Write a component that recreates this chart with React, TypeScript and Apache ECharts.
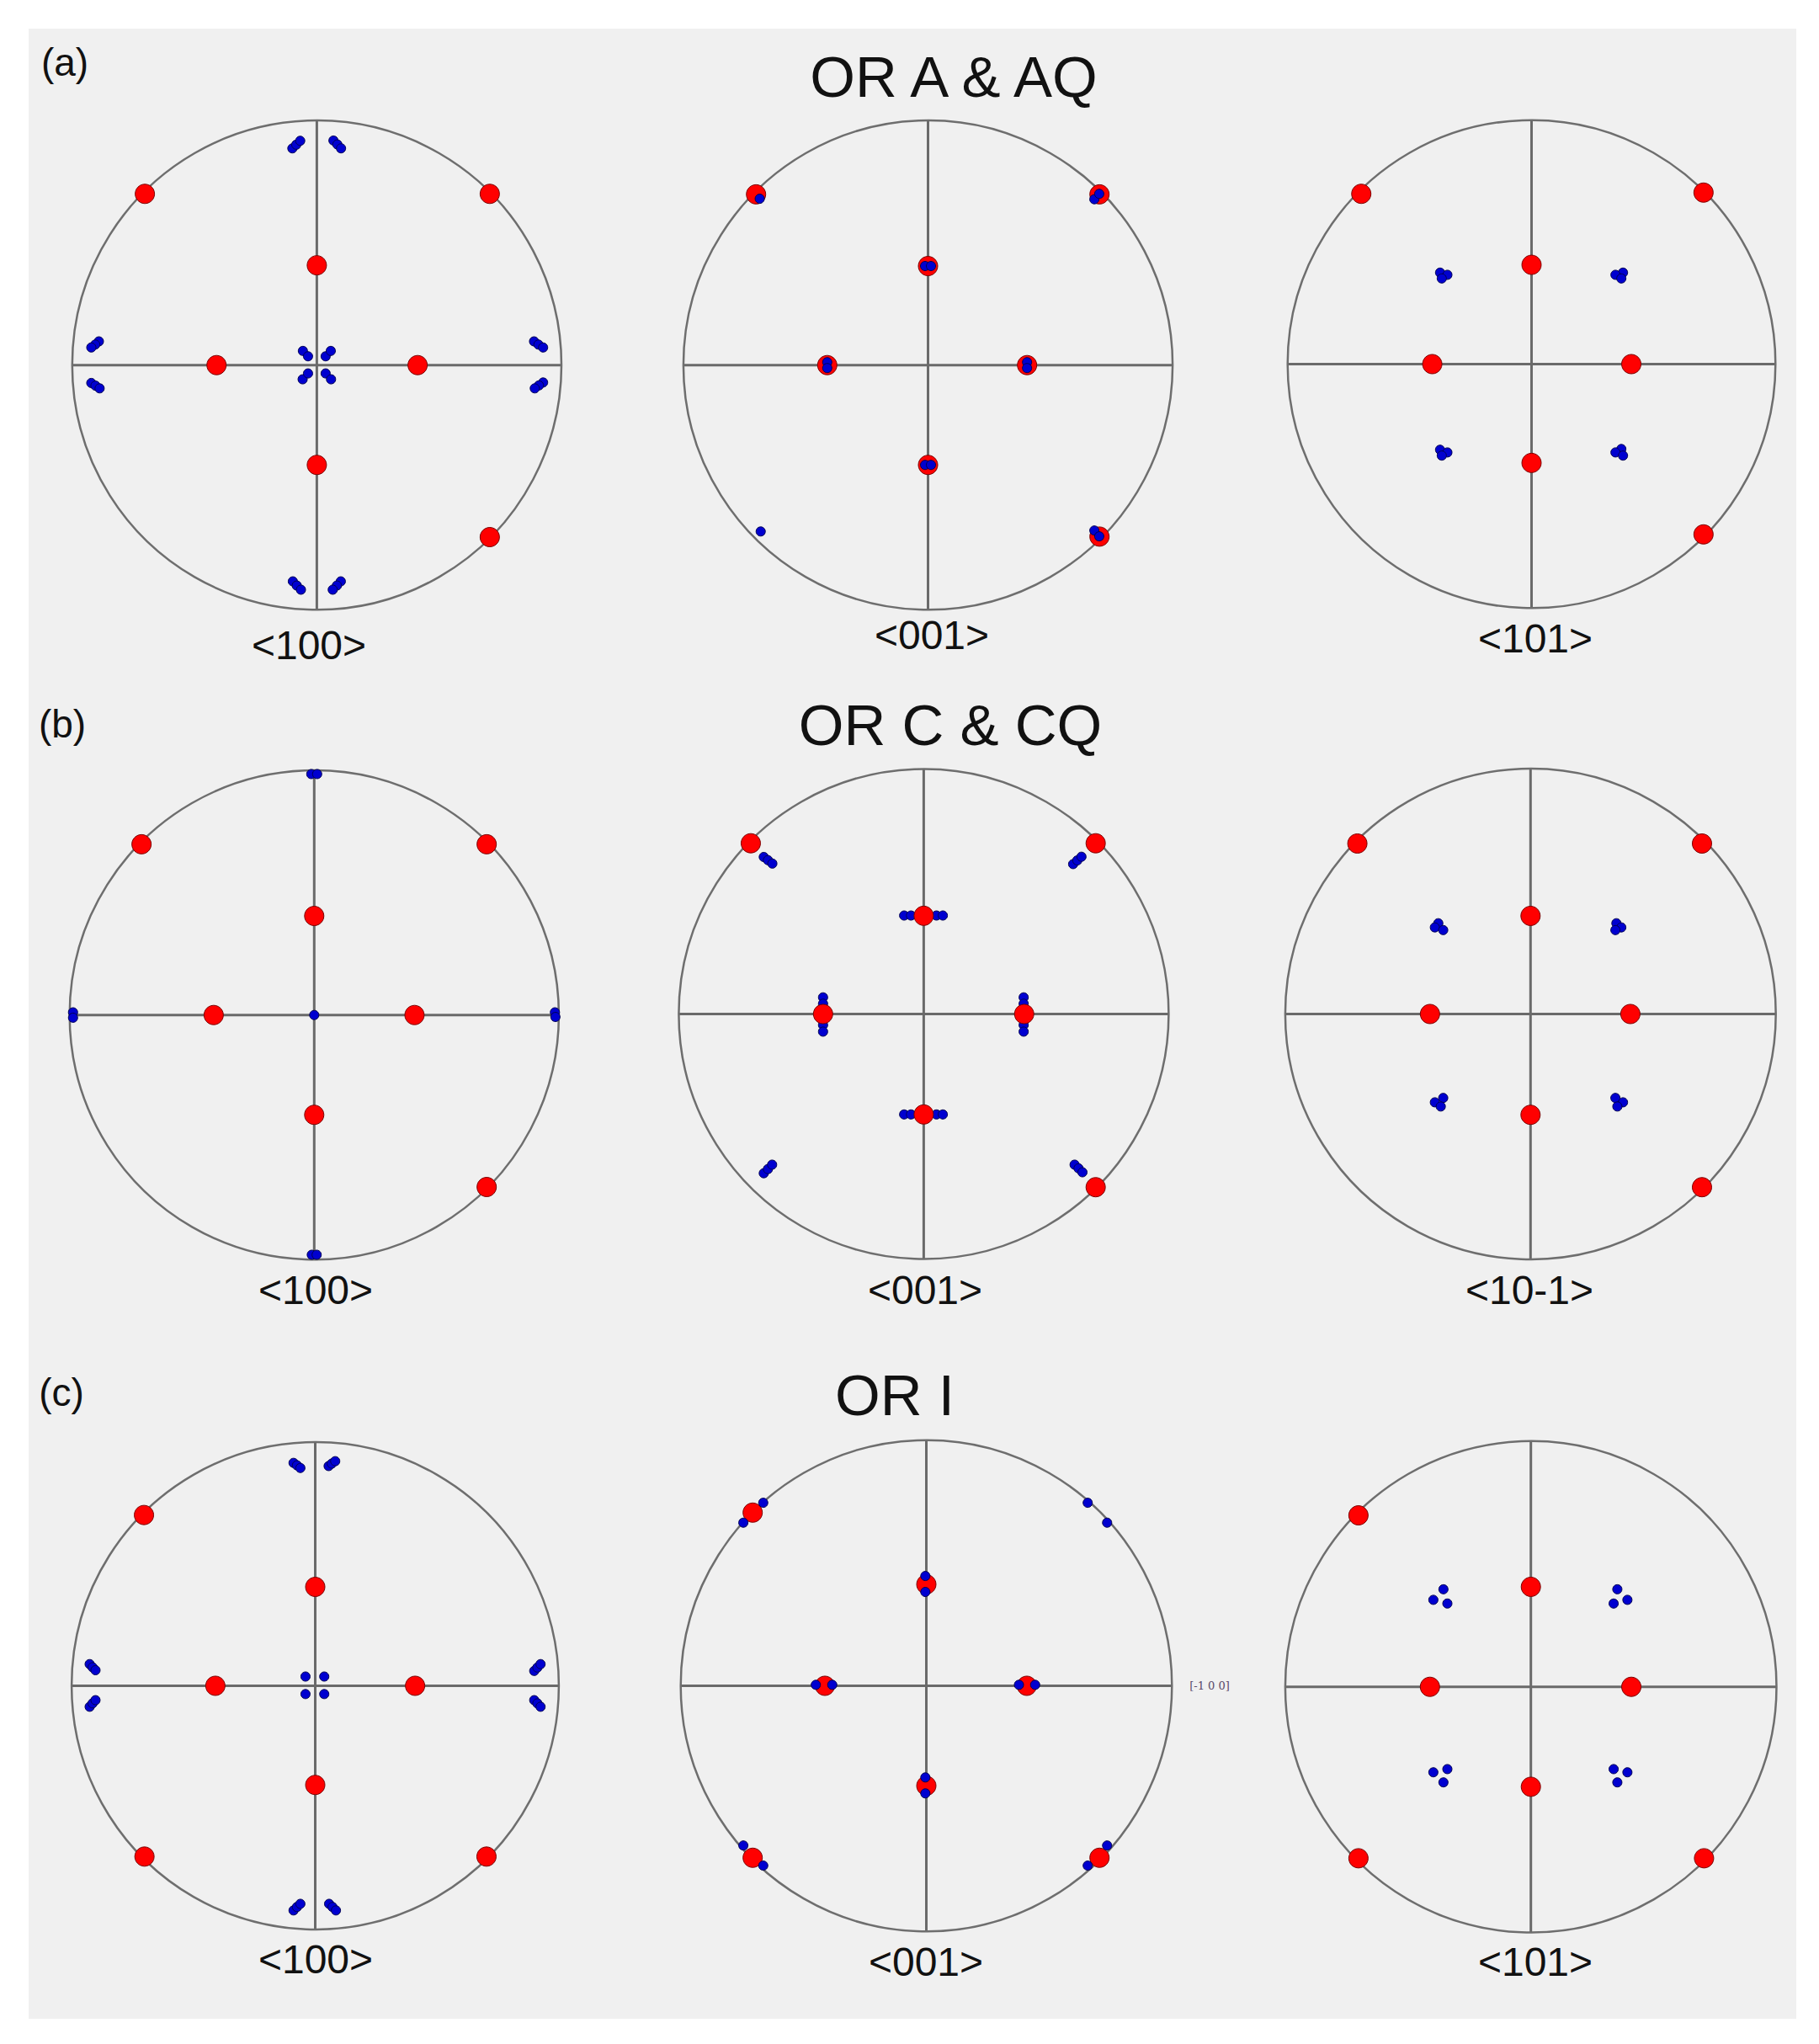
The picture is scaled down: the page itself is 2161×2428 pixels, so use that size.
import React, { useEffect, useRef } from "react";
import * as echarts from "echarts";

// Pole-figure data, normalised projection coordinates [x, y] (y up, unit circle)
const A1_RED = [[-0.703, 0.7], [0.707, 0.7], [0, 0.408], [-0.41, 0], [0.412, 0], [0, -0.408], [0.707, -0.703]];
const A1_BLUE = [
  [-0.1, 0.886], [-0.084, 0.901], [-0.068, 0.917],
  [0.068, 0.918], [0.084, 0.902], [0.099, 0.886],
  [-0.098, -0.884], [-0.082, -0.901], [-0.065, -0.918],
  [0.098, -0.884], [0.082, -0.901], [0.065, -0.918],
  [-0.891, 0.097], [-0.906, 0.084], [-0.922, 0.072],
  [-0.922, -0.073], [-0.905, -0.084], [-0.888, -0.095],
  [0.888, 0.097], [0.906, 0.084], [0.925, 0.072],
  [0.925, -0.071], [0.908, -0.083], [0.891, -0.095],
  [-0.057, 0.058], [-0.036, 0.036], [0.036, 0.036], [0.057, 0.058],
  [-0.058, -0.058], [-0.036, -0.034], [0.036, -0.034], [0.058, -0.058],
];
const A2_RED = [[-0.703, 0.698], [0.701, 0.698], [0, 0.405], [-0.412, 0], [0.405, 0], [0, -0.408], [0.701, -0.701]];
const A2_BLUE = [
  [-0.688, 0.68], [0.68, 0.678], [0.7, 0.7],
  [-0.012, 0.405], [0.012, 0.405], [-0.412, 0.012], [-0.412, -0.012],
  [0.405, 0.012], [0.405, -0.012], [-0.012, -0.408], [0.012, -0.408],
  [0.68, -0.676], [0.7, -0.7], [-0.684, -0.68],
];
const A3_RED = [[-0.698, 0.698], [0.705, 0.703], [0, 0.407], [-0.407, 0], [0.409, 0], [0, -0.405], [0.705, -0.698]];
const A3_BLUE = [
  [-0.375, 0.375], [-0.345, 0.366], [-0.368, 0.351],
  [0.375, 0.375], [0.344, 0.366], [0.368, 0.351],
  [-0.375, -0.351], [-0.345, -0.362], [-0.368, -0.375],
  [0.368, -0.348], [0.344, -0.362], [0.375, -0.375],
];
const B1_RED = [[-0.706, 0.698], [0.705, 0.698], [0, 0.405], [-0.411, 0], [0.41, 0], [0, -0.408], [0.705, -0.703]];
const B1_BLUE = [
  [-0.012, 0.985], [0.012, 0.985], [0, 0],
  [-0.986, 0.011], [-0.986, -0.011], [0.984, 0.011], [0.986, -0.008],
  [-0.01, -0.98], [0.01, -0.98],
];
const B2_RED = [[-0.706, 0.697], [0.702, 0.697], [0, 0.401], [-0.411, 0], [0.41, 0], [0, -0.41], [0.702, -0.707]];
const B2_BLUE = [
  [-0.653, 0.641], [-0.636, 0.628], [-0.618, 0.614],
  [0.61, 0.612], [0.627, 0.627], [0.644, 0.642],
  [-0.653, -0.65], [-0.636, -0.633], [-0.619, -0.615],
  [0.616, -0.615], [0.632, -0.63], [0.648, -0.646],
  [-0.08, 0.402], [-0.052, 0.402], [0.052, 0.402], [0.078, 0.402],
  [-0.08, -0.41], [-0.052, -0.41], [0.052, -0.41], [0.078, -0.41],
  [-0.411, 0.068], [-0.411, 0.042], [-0.411, -0.045], [-0.411, -0.072],
  [0.408, 0.068], [0.408, 0.042], [0.408, -0.045], [0.408, -0.072],
];
const B3_RED = [[-0.706, 0.695], [0.699, 0.695], [0, 0.4], [-0.41, 0], [0.407, 0], [0, -0.411], [0.699, -0.706]];
const B3_BLUE = [
  [-0.376, 0.37], [-0.39, 0.353], [-0.356, 0.342],
  [0.35, 0.37], [0.37, 0.353], [0.346, 0.342],
  [-0.356, -0.342], [-0.39, -0.36], [-0.366, -0.377],
  [0.346, -0.342], [0.377, -0.36], [0.354, -0.377],
];
const C1_RED = [[-0.703, 0.701], [0, 0.406], [-0.41, 0], [0.41, 0], [0, -0.407], [-0.701, -0.701], [0.703, -0.701]];
const C1_BLUE = [
  [-0.089, 0.915], [-0.075, 0.905], [-0.061, 0.894],
  [0.055, 0.902], [0.068, 0.912], [0.082, 0.922],
  [-0.089, -0.922], [-0.075, -0.908], [-0.061, -0.895],
  [0.057, -0.895], [0.071, -0.908], [0.085, -0.922],
  [-0.926, 0.089], [-0.914, 0.076], [-0.902, 0.064],
  [-0.926, -0.086], [-0.914, -0.072], [-0.902, -0.059],
  [0.899, 0.061], [0.912, 0.075], [0.925, 0.089],
  [0.899, -0.059], [0.912, -0.072], [0.925, -0.086],
  [-0.04, 0.038], [0.037, 0.038], [-0.04, -0.034], [0.037, -0.034],
];
const C2_RED = [[-0.707, 0.705], [0, 0.413], [-0.413, 0], [0.409, 0], [0, -0.407], [-0.707, -0.7], [0.705, -0.7]];
const C2_BLUE = [
  [-0.664, 0.745], [-0.745, 0.664], [0.657, 0.745], [0.736, 0.664],
  [-0.004, 0.447], [-0.004, 0.382], [-0.45, 0.004], [-0.383, 0.004],
  [0.377, 0.004], [0.443, 0.004], [-0.004, -0.373], [-0.004, -0.438],
  [-0.745, -0.65], [-0.664, -0.732], [0.736, -0.65], [0.657, -0.732],
];
const C3_RED = [[-0.702, 0.698], [0, 0.407], [-0.411, 0], [0.409, 0], [0, -0.407], [-0.702, -0.698], [0.705, -0.698]];
const C3_BLUE = [
  [-0.356, 0.397], [-0.397, 0.354], [-0.34, 0.339],
  [0.352, 0.397], [0.393, 0.354], [0.337, 0.339],
  [-0.34, -0.335], [-0.397, -0.348], [-0.356, -0.389],
  [0.337, -0.335], [0.393, -0.348], [0.352, -0.389],
];

const ROW_TITLES = ["OR A & AQ", "OR C & CQ", "OR I"];
const ROW_TAGS = ["(a)", "(b)", "(c)"];
const POLE_LABELS = ["<100>", "<001>", "<101>", "<100>", "<001>", "<10-1>", "<100>", "<001>", "<101>"];
const SIDE_NOTE = "[-1 0 0]";

const PANELS = [
  { red: A1_RED, blue: A1_BLUE, blueOnTop: false },
  { red: A2_RED, blue: A2_BLUE, blueOnTop: true },
  { red: A3_RED, blue: A3_BLUE, blueOnTop: false },
  { red: B1_RED, blue: B1_BLUE, blueOnTop: false },
  { red: B2_RED, blue: B2_BLUE, blueOnTop: false },
  { red: B3_RED, blue: B3_BLUE, blueOnTop: false },
  { red: C1_RED, blue: C1_BLUE, blueOnTop: false },
  { red: C2_RED, blue: C2_BLUE, blueOnTop: true },
  { red: C3_RED, blue: C3_BLUE, blueOnTop: false },
];

// layout (pixels)
const LAYOUT = [
  { cx: 376.4, cy: 433.7, r: 290.6, lx: 367, ly: 766 },
  { cx: 1102.5, cy: 433.7, r: 290.6, lx: 1107, ly: 754 },
  { cx: 1819.5, cy: 432.5, r: 289.8, lx: 1824, ly: 758 },
  { cx: 373.3, cy: 1205.7, r: 290.6, lx: 375, ly: 1532 },
  { cx: 1097.4, cy: 1204.5, r: 291.0, lx: 1099, ly: 1532 },
  { cx: 1818.3, cy: 1204.5, r: 291.4, lx: 1817, ly: 1532 },
  { cx: 374.5, cy: 2002.5, r: 289.4, lx: 375, ly: 2327 },
  { cx: 1100.5, cy: 2002.5, r: 291.8, lx: 1100, ly: 2330 },
  { cx: 1818.7, cy: 2003.7, r: 291.8, lx: 1824, ly: 2330 },
];
const TITLE_POS = [[1133, 91], [1129, 861], [1063, 1657]];
const TAG_POS = [[77, 74], [74, 860], [73, 1654]];

const toPolar = (p: number[]) => {
  const r = Math.hypot(p[0], p[1]);
  const a = ((Math.atan2(p[1], p[0]) * 180) / Math.PI + 360) % 360;
  return [r, a];
};

const FONT = "'Liberation Sans', Arial, Helvetica, sans-serif";

export default function App() {
  const ref = useRef<HTMLDivElement>(null);
  useEffect(() => {
    if (!ref.current) return;
    const chart = echarts.init(ref.current, undefined, { renderer: "svg" });
    const polar: any[] = [];
    const angleAxis: any[] = [];
    const radiusAxis: any[] = [];
    const series: any[] = [];
    const graphic: any[] = [];
    LAYOUT.forEach((L, i) => {
      polar.push({ center: [L.cx, L.cy], radius: L.r });
      angleAxis.push({
        polarIndex: i,
        type: "value",
        min: 0,
        max: 360,
        interval: 90,
        startAngle: 0,
        clockwise: false,
        axisLine: { show: true, lineStyle: { color: "#6e6e6e", width: 2.5 } },
        axisTick: { show: false },
        axisLabel: { show: false },
        splitLine: { show: true, lineStyle: { color: "#6a6a6a", width: 3 } },
      });
      radiusAxis.push({
        polarIndex: i,
        type: "value",
        min: 0,
        max: 1,
        axisLine: { show: false },
        axisTick: { show: false },
        axisLabel: { show: false },
        splitLine: { show: false },
      });
      const P = PANELS[i];
      const redS = {
        type: "scatter",
        coordinateSystem: "polar",
        polarIndex: i,
        symbolSize: 23,
        z: P.blueOnTop ? 3 : 4,
        itemStyle: { color: "#ff0000", borderColor: "#7a0000", borderWidth: 1, opacity: 1 },
        data: P.red.map(toPolar),
        silent: true,
      };
      const blueS = {
        type: "scatter",
        coordinateSystem: "polar",
        polarIndex: i,
        symbolSize: 11,
        z: P.blueOnTop ? 4 : 3,
        itemStyle: { color: "#0000d0", borderColor: "#000050", borderWidth: 1, opacity: 1 },
        data: P.blue.map(toPolar),
        silent: true,
      };
      series.push(redS, blueS);
      graphic.push({
        type: "text",
        x: L.lx,
        y: L.ly,
        style: {
          text: POLE_LABELS[i],
          font: `48px ${FONT}`,
          fill: "#111111",
          align: "center",
          verticalAlign: "middle",
        },
      });
    });
    ROW_TITLES.forEach((t, i) => {
      graphic.push({
        type: "text",
        x: TITLE_POS[i][0],
        y: TITLE_POS[i][1],
        style: { text: t, font: `69px ${FONT}`, fill: "#111111", align: "center", verticalAlign: "middle" },
      });
      graphic.push({
        type: "text",
        x: TAG_POS[i][0],
        y: TAG_POS[i][1],
        style: { text: ROW_TAGS[i], font: `46px ${FONT}`, fill: "#111111", align: "center", verticalAlign: "middle" },
      });
    });
    graphic.push({
      type: "text",
      x: 1437,
      y: 2002,
      style: { text: SIDE_NOTE, font: "13px 'DejaVu Serif', serif", fill: "#5a4a6a", align: "center", verticalAlign: "middle" },
    });
    chart.setOption({
      animation: false,
      backgroundColor: "transparent",
      polar,
      angleAxis,
      radiusAxis,
      series,
      graphic,
    });
    return () => chart.dispose();
  }, []);
  return (
    <div style={{ position: "absolute", left: 0, top: 0, width: 2161, height: 2428, background: "#ffffff" }}>
      <div style={{ position: "absolute", left: 34, top: 34, width: 2100, height: 2364, background: "#f0f0f0" }} />
      <div ref={ref} style={{ position: "absolute", left: 0, top: 0, width: 2161, height: 2428 }} />
    </div>
  );
}
